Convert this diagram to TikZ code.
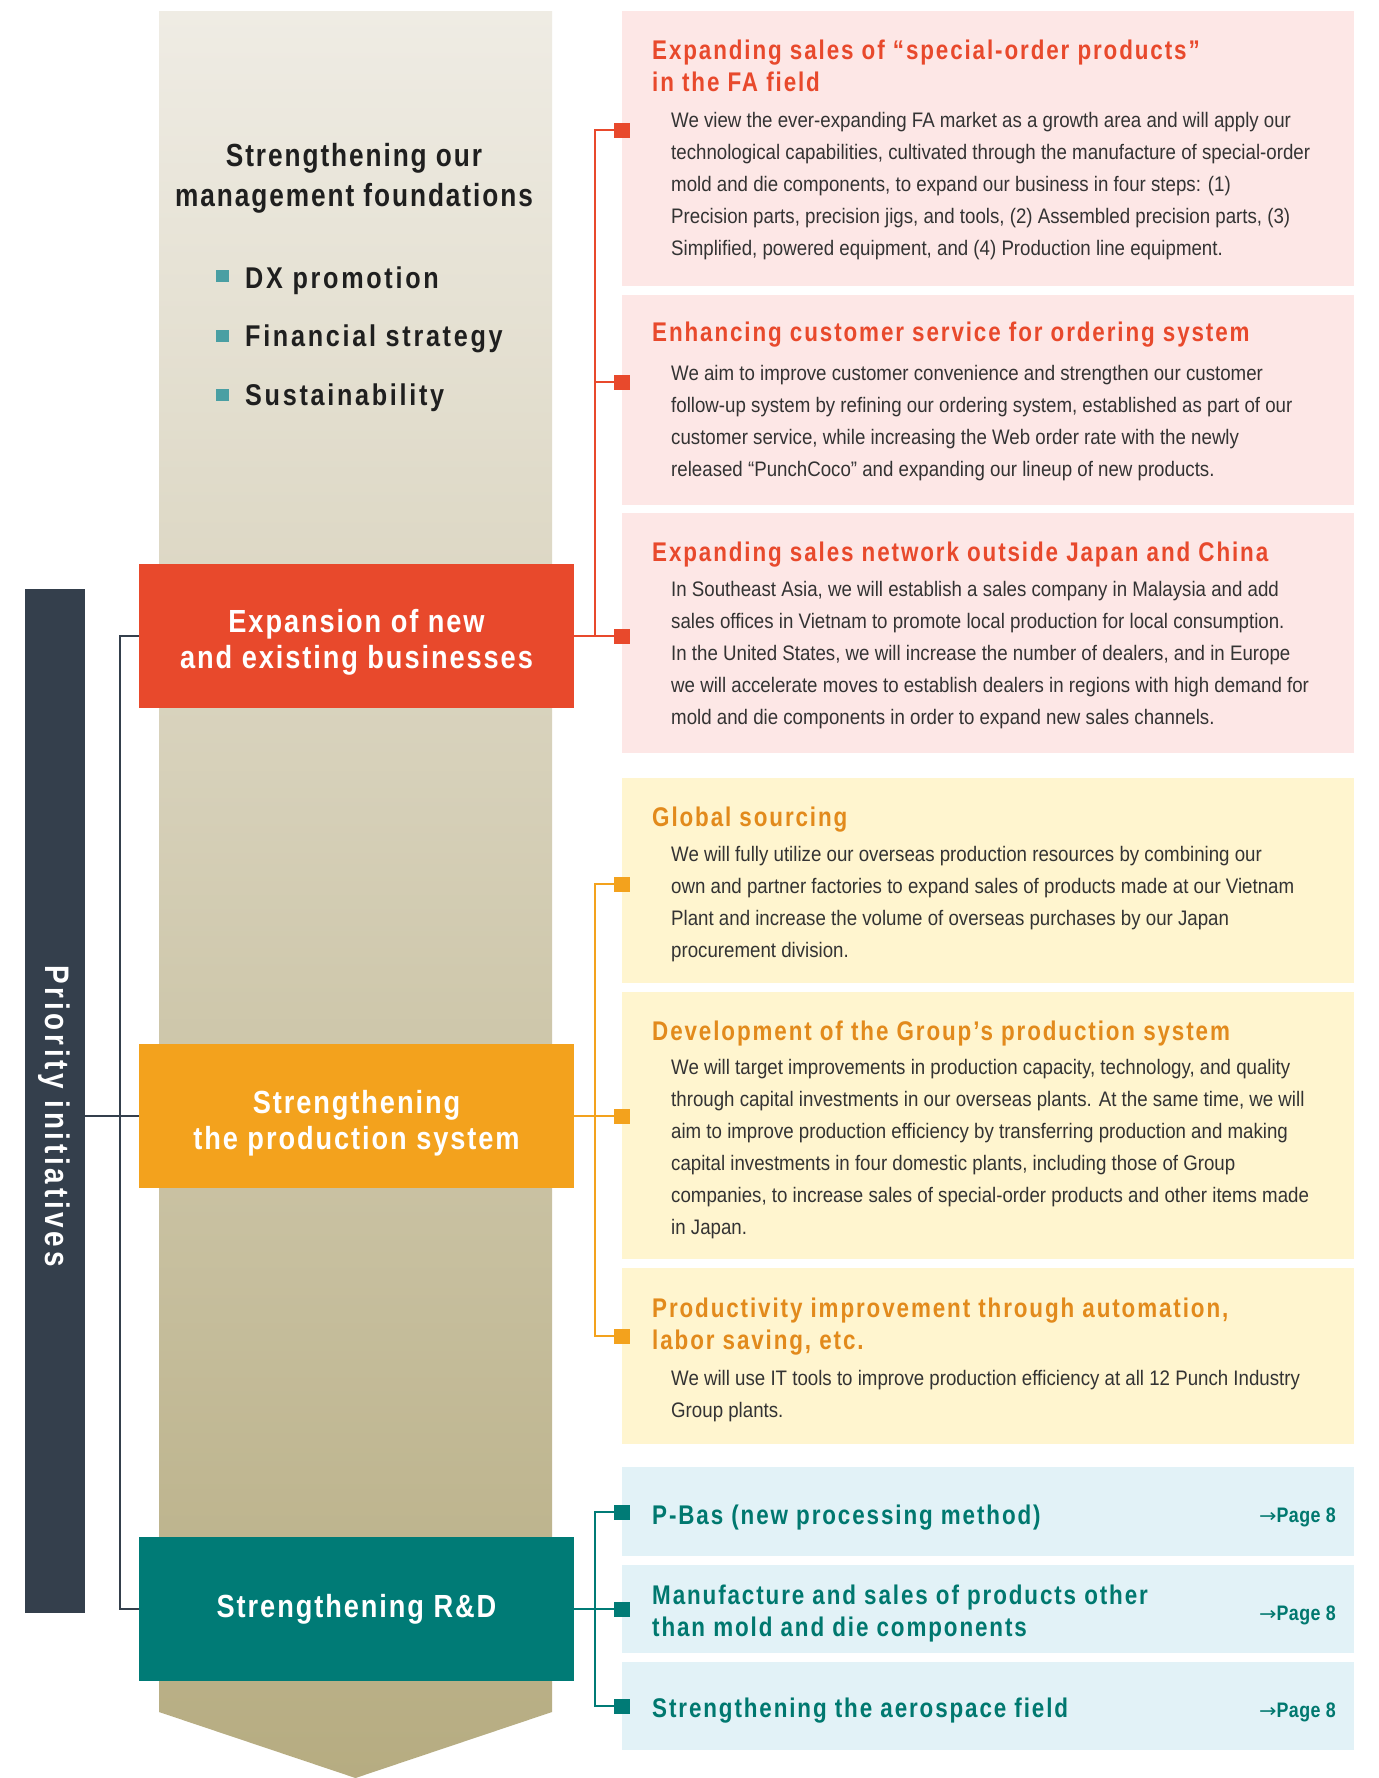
\documentclass[tikz,border=0pt]{standalone}
\usepackage{fontspec}
\setmainfont{Liberation Sans}
\newfontfamily\bodyf[FakeStretch=0.89]{Liberation Sans}
\newfontfamily\headf[FakeStretch=0.83,LetterSpace=7]{Liberation Sans}
\newfontfamily\colheadf[FakeStretch=0.82,LetterSpace=6]{Liberation Sans}
\newfontfamily\catheadf[FakeStretch=0.85,LetterSpace=6]{Liberation Sans}
\newfontfamily\wideheadf[FakeStretch=0.84,LetterSpace=9]{Liberation Sans}
\newfontfamily\prioheadf[FakeStretch=0.82,LetterSpace=11]{Liberation Sans}
\newfontfamily\pagef[FakeStretch=0.85,LetterSpace=2]{Liberation Sans}
\newfontfamily\arrowf[FakeStretch=1.1]{DejaVu Sans}
\usetikzlibrary{calc}
\definecolor{pinkfill}{HTML}{FDE7E6}
\definecolor{yelfill}{HTML}{FFF5CF}
\definecolor{bluefill}{HTML}{E2F2F7}
\definecolor{redc}{HTML}{E8492C}
\definecolor{orc}{HTML}{F3A21D}
\definecolor{ortext}{HTML}{E28A1C}
\definecolor{tealc}{HTML}{007B76}
\definecolor{tealtext}{HTML}{00786F}
\definecolor{darkc}{HTML}{343F4C}
\definecolor{bodyc}{HTML}{333333}
\definecolor{coltop}{HTML}{EFECE4}
\definecolor{colbot}{HTML}{B6AC81}
\definecolor{bullc}{HTML}{4A9FA3}
\newcommand{\bodypar}[1]{\parbox[t]{720pt}{\raggedright\bodyf\fontsize{21}{32}\selectfont #1}}
\newcommand{\ttlpar}[1]{\parbox[t]{720pt}{\raggedright\headf\bfseries\fontsize{27}{32}\selectfont #1}}
\tikzset{
  bgbox/.style={fill=#1, draw=none, minimum width=732pt, anchor=north west, inner sep=0pt},
  catbox/.style={fill=#1, draw=none, minimum width=435pt, minimum height=144pt, inner sep=0pt},
  cattext/.style={inner sep=0pt, text=white, align=center, font=\catheadf\bfseries\fontsize{32}{36}\selectfont},
  sqmark/.style={fill=#1, draw=none, minimum width=16pt, minimum height=15pt, inner sep=0pt},
  txt/.style={anchor=base west, inner sep=0pt, text=#1},
  conn/.style={draw=#1, line width=2pt},
  bull/.style={fill=bullc, draw=none, minimum width=13pt, minimum height=12pt, inner sep=0pt},
  bulltxt/.style={anchor=base west, inner sep=0pt, text=black!88, font=\wideheadf\bfseries\fontsize{30}{34}\selectfont},
  coltxt/.style={anchor=base, inner sep=0pt, text=black!88, font=\colheadf\bfseries\fontsize{32}{36}\selectfont},
  pagetxt/.style={anchor=base east, inner sep=0pt, text=tealtext, font=\pagef\bfseries\fontsize{21}{24}\selectfont},
}
\newcommand{\pg}{{\arrowf\mdseries\fontsize{19}{24}\selectfont →}Page 8}
\begin{document}
\begin{tikzpicture}[x=1pt,y=-1pt]
\useasboundingbox (0,0) rectangle (1379,1778);
\fill[white] (0,0) rectangle (1379,1778);
% central column with chevron
\shade[top color=coltop, bottom color=colbot]
  (159,11) -- (552,11) -- (552,1712) -- (355.5,1778) -- (159,1712) -- cycle;
% column title and bullets
\node[coltxt] (ct1) at (354,166) {Strengthening our};
\node[coltxt] (ct2) at (354,206) {management foundations};
\node[bull] (bu1) at (222.5,276) {};
\node[bull] (bu2) at (222.5,336) {};
\node[bull] (bu3) at (222.5,395) {};
\node[bulltxt] (bt1) at (245,288) {DX promotion};
\node[bulltxt] (bt2) at (245,346) {Financial strategy};
\node[bulltxt] (bt3) at (245,405) {Sustainability};
% right boxes
\node[bgbox=pinkfill, minimum height=275pt] (p1) at (622,11) {};
\node[bgbox=pinkfill, minimum height=210pt] (p2) at (622,295) {};
\node[bgbox=pinkfill, minimum height=240pt] (p3) at (622,513) {};
\node[bgbox=yelfill, minimum height=205pt] (y1) at (622,778) {};
\node[bgbox=yelfill, minimum height=267pt] (y2) at (622,992) {};
\node[bgbox=yelfill, minimum height=176pt] (y3) at (622,1268) {};
\node[bgbox=bluefill, minimum height=89pt] (b1) at (622,1467) {};
\node[bgbox=bluefill, minimum height=88pt] (b2) at (622,1565) {};
\node[bgbox=bluefill, minimum height=88pt] (b3) at (622,1662) {};
% category boxes
\node[catbox=redc] (exp) at (356.5,636) {};
\node[catbox=orc] (prod) at (356.5,1116) {};
\node[catbox=tealc] (rd) at (356.5,1609) {};
\node[cattext] (expt) at (356.5,642) {Expansion of new\\and existing businesses};
\node[cattext] (prodt) at (356.5,1123) {Strengthening\\the production system};
\node[cattext] (rdt) at (356.5,1609) {Strengthening R\&D};
% priority bar
\node[fill=darkc, draw=none, minimum width=60pt, minimum height=1024pt, inner sep=0pt] (pri) at (55,1101) {};
\node[rotate=-90, inner sep=0pt, text=white, font=\prioheadf\bfseries\fontsize{34}{36}\selectfont] (prit) at (54,1116) {Priority initiatives};
% markers
\node[sqmark=redc] (m1) at (622,130) {};
\node[sqmark=redc] (m2) at (622,382) {};
\node[sqmark=redc] (m3) at (622,636) {};
\node[sqmark=orc] (o1) at (622,884) {};
\node[sqmark=orc] (o2) at (622,1116) {};
\node[sqmark=orc] (o3) at (622,1336) {};
\node[sqmark=tealc] (t1) at (622,1512) {};
\node[sqmark=tealc] (t2) at (622,1609) {};
\node[sqmark=tealc] (t3) at (622,1706) {};
\coordinate (jx) at (595,0);
% connectors
\draw[conn=darkc] (exp.west) -- ++(-19,0) |- (rd.west);
\draw[conn=darkc] (pri.east |- prod.west) -- (prod.west);
\draw[conn=redc] (exp.east) -- (m3.west);
\draw[conn=redc] (m1.west) -| (jx |- m3.west);
\draw[conn=redc] (m2.west) -- (m2.west -| jx);
\draw[conn=orc] (prod.east) -- (o2.west);
\draw[conn=orc] (o1.west) -| (jx |- o3.west) -- (o3.west);
\draw[conn=tealc] (rd.east) -- (t2.west);
\draw[conn=tealc] (t1.west) -| (jx |- t3.west) -- (t3.west);
% texts box 1
\node[txt=redc] (h1) at (652,59) {\ttlpar{Expanding sales of “special-order products”\\in the FA field}};
\node[txt=bodyc] (d1) at (671,127) {\bodypar{We view the ever-expanding FA market as a growth area and will apply our\\
technological capabilities, cultivated through the manufacture of special-order\\
mold and die components, to expand our business in four steps: (1)\\
Precision parts, precision jigs, and tools, (2) Assembled precision parts, (3)\\
Simplified, powered equipment, and (4) Production line equipment.}};
% box 2
\node[txt=redc] (h2) at (652,341) {\ttlpar{Enhancing customer service for ordering system}};
\node[txt=bodyc] (d2) at (671,380) {\bodypar{We aim to improve customer convenience and strengthen our customer\\
follow-up system by refining our ordering system, established as part of our\\
customer service, while increasing the Web order rate with the newly\\
released “PunchCoco” and expanding our lineup of new products.}};
% box 3
\node[txt=redc] (h3) at (652,561) {\ttlpar{Expanding sales network outside Japan and China}};
\node[txt=bodyc] (d3) at (671,596) {\bodypar{In Southeast Asia, we will establish a sales company in Malaysia and add\\
sales offices in Vietnam to promote local production for local consumption.\\
In the United States, we will increase the number of dealers, and in Europe\\
we will accelerate moves to establish dealers in regions with high demand for\\
mold and die components in order to expand new sales channels.}};
% box 4
\node[txt=ortext] (h4) at (652,826) {\ttlpar{Global sourcing}};
\node[txt=bodyc] (d4) at (671,861) {\bodypar{We will fully utilize our overseas production resources by combining our\\
own and partner factories to expand sales of products made at our Vietnam\\
Plant and increase the volume of overseas purchases by our Japan\\
procurement division.}};
% box 5
\node[txt=ortext] (h5) at (652,1040) {\ttlpar{Development of the Group’s production system}};
\node[txt=bodyc] (d5) at (671,1074) {\bodypar{We will target improvements in production capacity, technology, and quality\\
through capital investments in our overseas plants. At the same time, we will\\
aim to improve production efficiency by transferring production and making\\
capital investments in four domestic plants, including those of Group\\
companies, to increase sales of special-order products and other items made\\
in Japan.}};
% box 6
\node[txt=ortext] (h6) at (652,1317) {\ttlpar{Productivity improvement through automation,\\labor saving, etc.}};
\node[txt=bodyc] (d6) at (671,1385) {\bodypar{We will use IT tools to improve production efficiency at all 12 Punch Industry\\
Group plants.}};
% blue boxes
\node[txt=tealtext] (h7) at (652,1524) {\ttlpar{P-Bas (new processing method)}};
\node[txt=tealtext] (h8) at (652,1604) {\ttlpar{Manufacture and sales of products other\\than mold and die components}};
\node[txt=tealtext] (h9) at (652,1717) {\ttlpar{Strengthening the aerospace field}};
\node[pagetxt] (g1) at (1336,1522) {\pg};
\node[pagetxt] (g2) at (1336,1620) {\pg};
\node[pagetxt] (g3) at (1336,1717) {\pg};
\end{tikzpicture}
\end{document}
